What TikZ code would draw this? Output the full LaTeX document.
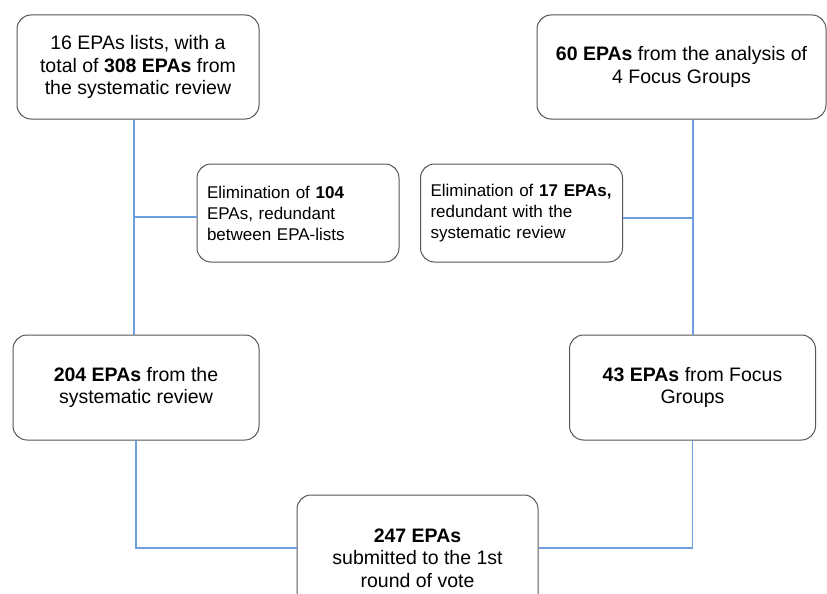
\documentclass[tikz,border=0pt]{standalone}
\usepackage{fontspec}
\setmainfont{Liberation Sans}
\usetikzlibrary{positioning}

\definecolor{linkblue}{RGB}{109,158,222}
\definecolor{boxgray}{RGB}{85,85,85}

\begin{document}
\begin{tikzpicture}[x=1pt, y=-1pt,
  box/.style={draw=boxgray, line width=1pt, rounded corners=14pt, align=center, font=\fontsize{19.5}{22.5}\selectfont},
  elim/.style={draw=boxgray, line width=1pt, rounded corners=14pt, align=left, text width=182pt, inner xsep=10pt, minimum height=98pt, font=\fontsize{17}{21}\selectfont},
  link/.style={draw=linkblue, line width=1.2pt}]
  \path[use as bounding box, clip] (0,0) rectangle (827,594);

  \node[box, minimum width=242pt, minimum height=104pt] (SR) at (138,67) {16 EPAs lists, with a\\ total of \textbf{308 EPAs} from\\ the systematic review};
  \node[box, minimum width=289pt, minimum height=104pt] (FG) at (681.5,67) {\textbf{60 EPAs} from the analysis of\\ 4 Focus Groups};

  \node[elim] (elimSR) at (298,213) {Elimination of \textbf{104}\\ EPAs, redundant\\ between EPA-lists};
  \node[elim] (elimFG) at (521.5,213) {Elimination of \textbf{17 EPAs,}\\ redundant with the\\ systematic review};

  \node[box, minimum width=246pt, minimum height=105pt] (SRkept) at (136,387.5) {\textbf{204 EPAs} from the\\ systematic review};
  \node[box, minimum width=246pt, minimum height=105pt] (FGkept) at (692.5,387.5) {\textbf{43 EPAs} from Focus\\ Groups};

  \node[box, minimum width=241pt, minimum height=126pt] (vote) at (417.5,558) {\textbf{247 EPAs}\\ submitted to the 1st\\ round of vote};

  % left branch
  \coordinate (trunkL) at ([xshift=-4pt]SR.south);
  \draw[link] (trunkL) -- (trunkL |- SRkept.north);
  \draw[link] ([yshift=-4pt]elimSR.west) -- ([yshift=-4pt]elimSR.west -| trunkL);

  % right branch
  \coordinate (trunkR) at ([xshift=11.5pt]FG.south);
  \draw[link] (trunkR) -- (trunkR |- FGkept.north);
  \draw[link] ([yshift=-5pt]elimFG.east) -- ([yshift=-5pt]elimFG.east -| trunkR);

  % merge
  \draw[link] (SRkept.south) |- ([yshift=10pt]vote.west);
  \draw[link] (FGkept.south) |- ([yshift=10pt]vote.east);
\end{tikzpicture}
\end{document}
